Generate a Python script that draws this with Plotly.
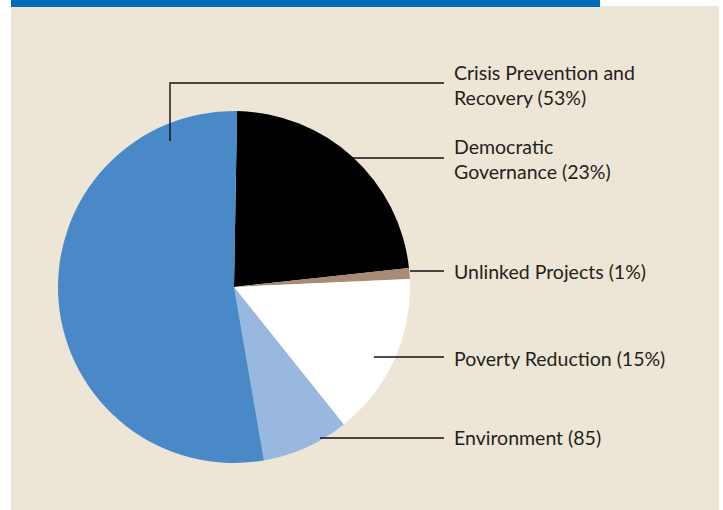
import plotly.graph_objects as go

# Data
categories = ["Democratic Governance", "Unlinked Projects", "Poverty Reduction", "Environment", "Crisis Prevention and Recovery"]
values = [23, 1, 15, 8, 53]
label_texts = ["Democratic<br>Governance (23%)", "Unlinked Projects (1%)", "Poverty Reduction (15%)",
               "Environment (85)", "Crisis Prevention and<br>Recovery (53%)"]
colors = ["#000000", "#A88B74", "#FFFFFF", "#99B8E0", "#4A89C8"]

W, H = 723, 510
def px(x):
    return x / W
def py(y):
    return 1 - y / H

cx, cy, r = 234, 287, 176

fig = go.Figure()
fig.add_trace(go.Pie(
    labels=categories, values=values, sort=False, direction="clockwise", rotation=1,
    marker=dict(colors=colors, line=dict(width=0)),
    textinfo="none", hoverinfo="label+percent", showlegend=False,
    domain=dict(x=[px(cx - r), px(cx + r)], y=[py(cy + r), py(cy - r)]),
))

shapes = [
    dict(type="rect", xref="paper", yref="paper", x0=px(11), x1=px(719), y0=0, y1=py(6),
         fillcolor="#EDE5D5", line=dict(width=0), layer="below"),
    dict(type="rect", xref="paper", yref="paper", x0=px(11), x1=px(600), y0=py(7), y1=1,
         fillcolor="#006BB6", line=dict(width=0), layer="below"),
]

# leader lines (label layout)
leaders = [
    [(353, 158), (444, 158)],
    [(410, 271), (444, 271)],
    [(374, 357), (444, 357)],
    [(320, 438), (444, 438)],
    [(170, 141), (170, 83), (444, 83)],
]
label_y = [159, 271, 358, 437, 85]

for pts in leaders:
    path = "M " + " L ".join(f"{px(x)},{py(y)}" for x, y in pts)
    shapes.append(dict(type="path", xref="paper", yref="paper", path=path,
                       line=dict(color="#111111", width=1.4)))

annotations = []
for txt, ly in zip(label_texts, label_y):
    annotations.append(dict(x=px(452), y=py(ly), xref="paper", yref="paper", text=txt,
                            showarrow=False, xanchor="left", yanchor="middle", align="left",
                            font=dict(family="Lato, Open Sans, sans-serif", size=19.5, color="#231F20")))

fig.update_layout(
    width=W, height=H, margin=dict(l=0, r=0, t=0, b=0),
    paper_bgcolor="#FFFFFF", plot_bgcolor="rgba(0,0,0,0)",
    shapes=shapes, annotations=annotations,
)
fig.write_html("out.html")
